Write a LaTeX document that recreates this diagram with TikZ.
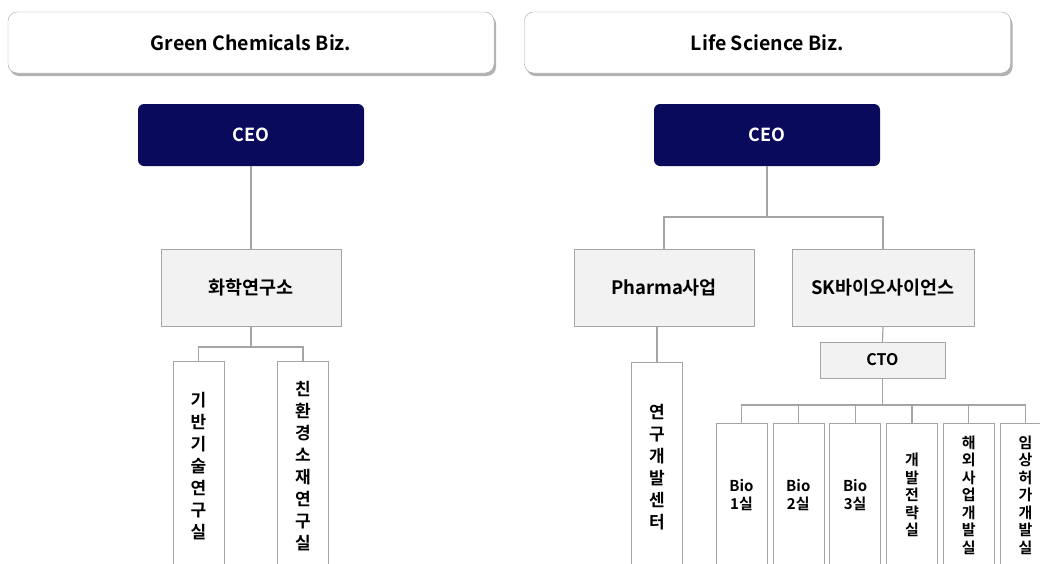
\documentclass[tikz,border=0pt]{standalone}
\usepackage{fontspec}
\setmainfont{Noto Sans CJK KR}[BoldFont={Noto Sans CJK KR Bold}]
\usetikzlibrary{shadows}
\definecolor{navy}{RGB}{10,10,92}
\definecolor{boxgray}{RGB}{242,242,242}
\definecolor{linegray}{RGB}{165,165,165}

\begin{document}
\begin{tikzpicture}[x=1pt, y=-1pt,
    biz/.style={draw=linegray, fill=white, rounded corners=9pt, minimum width=486, minimum height=61,
      font=\fontsize{19.5}{22}\selectfont\bfseries,
      drop shadow={shadow xshift=2pt, shadow yshift=-3pt, opacity=0.3, fill=black}},
    ceo/.style={fill=navy, rounded corners=6pt, minimum width=226, minimum height=62, text=white,
      font=\fontsize{18}{20}\selectfont\bfseries},
    unit/.style={draw=linegray, fill=boxgray, minimum height=77, font=\fontsize{18.5}{20}\selectfont\bfseries},
    cto/.style={draw=linegray, fill=boxgray, minimum width=125, minimum height=36, font=\fontsize{16}{18}\selectfont\bfseries},
    vbox/.style={draw=linegray, fill=white, anchor=north, minimum width=51, minimum height=210, inner sep=0pt,
      align=center, font=\fontsize{17}{22}\selectfont\bfseries},
    sbox/.style={draw=linegray, fill=white, anchor=north, minimum width=51, minimum height=144, inner sep=0pt,
      align=center, font=\fontsize{15}{17.5}\selectfont\bfseries},
    link/.style={draw=linegray, line width=1.2pt}]
          \useasboundingbox (0,0) rectangle (1040,563);
          \clip (0,0) rectangle (1040,563);

          % Cajas
          \node[biz] (bizL) at (251,42.5) {Green Chemicals Biz.};
          \node[biz] (bizR) at (767.5,42.5) {Life Science Biz.};
          \node[ceo] (ceoL) at (251,135) {CEO};
          \node[ceo] (ceoR) at (767,135) {CEO};
          \node[unit, minimum width=180] (lab) at (251,287.5) {화학연구소};
          \node[vbox] (base) at (198.5,361) {기\\반\\기\\술\\연\\구\\실};
          \node[vbox] (eco) at (303,361) {친\\환\\경\\소\\재\\연\\구\\실};

          \node[unit, minimum width=180] (pharma) at (664,287.5) {Pharma사업};
          \node[unit, minimum width=182] (skbs) at (883,287.5) {SK바이오사이언스};
          \node[cto] (cto) at (882.5,360) {CTO};
          \node[vbox] (rnd) at (657,362) {연\\구\\개\\발\\센\\터};
          \foreach \i/\txt in {0/{Bio\\1실}, 1/{Bio\\2실}, 2/{Bio\\3실}, 3/{개\\발\\전\\략\\실},
                               4/{해\\외\\사\\업\\개\\발\\실}, 5/{임\\상\\허\\가\\개\\발\\실}}
            \node[sbox] (sub\i) at (741.5+56.8*\i,423) {\txt};

          % Lineas
          \coordinate (jL) at (251,347);
          \coordinate (jR) at (767,217);
          \coordinate (jC) at (882.5,405);
          \draw[link] (ceoL) -- (lab);
          \draw[link] (lab.south) -- (jL);
          \draw[link] (base.north) |- (jL) -| (eco.north);
          \draw[link] (ceoR.south) -- (jR);
          \draw[link] (pharma.north) |- (jR) -| (skbs.north);
          \draw[link] (rnd.north) -- (rnd.north |- pharma.south);
          \draw[link] (skbs.south) -- (cto.north);
          \draw[link] (cto.south) -- (jC);
          \draw[link] (sub0.north) |- (jC) -| (sub5.north);
          \foreach \i in {1,...,4}
            \draw[link] (sub\i.north) -- (sub\i.north |- jC);

        \end{tikzpicture}
\end{document}
